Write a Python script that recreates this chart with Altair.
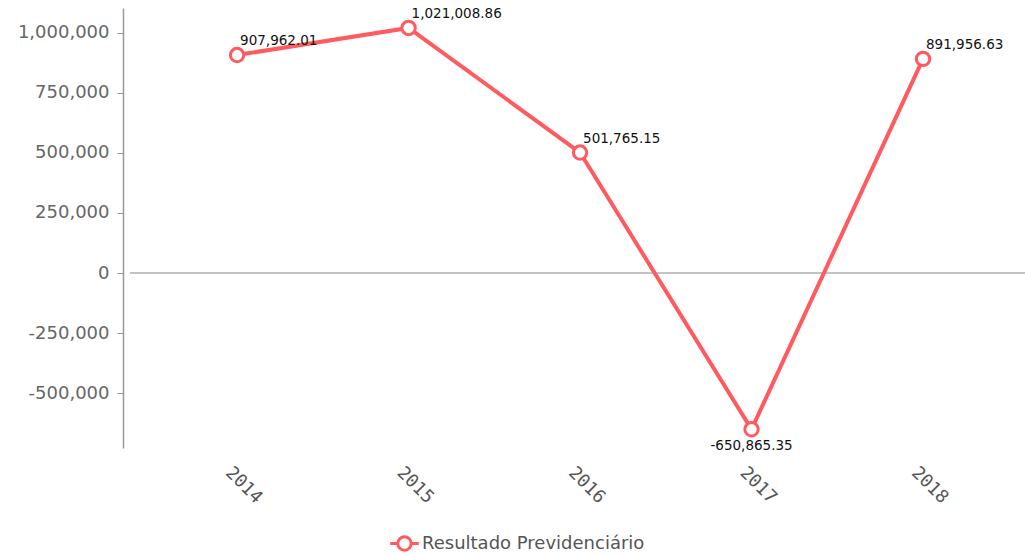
import altair as alt
import pandas as pd

years = ["2014", "2015", "2016", "2017", "2018"]
values = [907962.01, 1021008.86, 501765.15, -650865.35, 891956.63]
series = ["Resultado Previdenciário"] * 5
y_ticks = [-500000, -250000, 0, 250000, 500000, 750000, 1000000]

df = pd.DataFrame({"year": years, "value": values, "series": series})

RED = "#FF5A5F"
W, H = 902, 440

x_enc = alt.X("year:O", scale=alt.Scale(type="point", padding=0.63, align=0.528),
              axis=alt.Axis(title=None, labelAngle=45, labelAlign="center", labelBaseline="middle",
                            labelPadding=37, labelOffset=6, labelFont="DejaVu Sans Mono", labelFontSize=18,
                            labelColor="#555555", domain=False, ticks=False))
y_scale = alt.Scale(domain=[-729000, 1104000], nice=False, zero=False)
y_enc = alt.Y("value:Q", scale=y_scale,
              axis=alt.Axis(title=None, values=y_ticks, format=",d", grid=False,
                            labelExpr="replace(datum.label, '\u2212', '-')",
                            labelFont="DejaVu Sans", labelFontSize=18, labelColor="#666666",
                            domainColor="#999999", domainWidth=1.5, tickColor="#999999",
                            tickSize=6, labelPadding=8))

base = alt.Chart(df).transform_calculate(
    label="replace(format(datum.value, ',.2f'), '\u2212', '-')"
)

zero = alt.Chart(pd.DataFrame({"value": [0]})).mark_rule(color="#888888", strokeWidth=1.2).encode(
    y=y_enc, x=alt.value(7), x2=alt.value(W))

legend_symbol = "M-1.6,0 L-0.75,0 M0.75,0 L1.6,0 M-0.75,0 A0.75,0.75 0 1,1 0.75,0 A0.75,0.75 0 1,1 -0.75,0 Z"

line = base.mark_line(color=RED, strokeWidth=4).encode(x=x_enc, y=y_enc)
points = base.mark_point(shape="circle", filled=True, fill="white", strokeWidth=3, size=180, opacity=1).encode(
    x=x_enc, y=y_enc,
    stroke=alt.Stroke("series:N", scale=alt.Scale(range=[RED]),
                      legend=alt.Legend(title=None, orient="none", legendX=271, legendY=525,
                                        symbolType=legend_symbol, symbolSize=320, symbolStrokeWidth=3,
                                        symbolFillColor="white", labelFont="DejaVu Sans",
                                        labelFontSize=18, labelColor="#555555", labelOffset=7,
                                        labelLimit=400)))

pos_labels = base.transform_filter("datum.value >= 0").mark_text(
    align="left", baseline="bottom", dx=3, dy=-7, font="DejaVu Sans", fontSize=13.5, color="#111111"
).encode(x=x_enc, y=y_enc, text="label:N")
neg_labels = base.transform_filter("datum.value < 0").mark_text(
    align="center", baseline="top", dy=10, font="DejaVu Sans", fontSize=13.5, color="#111111"
).encode(x=x_enc, y=y_enc, text="label:N")

chart = alt.layer(zero, line, points, pos_labels, neg_labels).properties(
    width=W, height=H,
    autosize=alt.AutoSizeParams(type="none"),
    padding={"left": 123, "top": 8, "right": 0, "bottom": 107},
).configure(background="white").configure_view(stroke=None, strokeWidth=0)

chart.save("out.html", embed_options={"renderer": "svg", "actions": False})
